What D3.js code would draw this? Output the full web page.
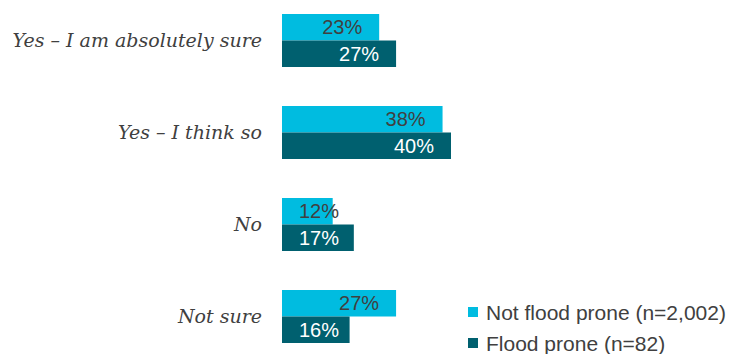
<!DOCTYPE html>
<html>
<head>
<meta charset="utf-8">
<script src="https://cdn.jsdelivr.net/npm/d3@7"></script>
<style>
  html, body { margin: 0; padding: 0; background: #fff; }
  svg { display: block; }
</style>
</head>
<body>
<svg id="chart" width="730" height="354"></svg>
<script>
// Survey answers and share of respondents (%) per group
const categories = ["Yes – I am absolutely sure", "Yes – I think so", "No", "Not sure"];
const seriesNames = ["Not flood prone (n=2,002)", "Flood prone (n=82)"];
const notFloodProne = [23, 38, 12, 27];
const floodProne = [27, 40, 17, 16];
const seriesValues = [notFloodProne, floodProne];

const colors = ["#00BCE0", "#00606F"];
const labelColors = ["#404040", "#FFFFFF"];

const svg = d3.select("#chart");

const x = d3.scaleLinear().domain([0, 40]).range([282, 451]);

const y = d3.scaleBand()
  .domain(categories)
  .range([14, 343])
  .paddingInner(39 / 92)
  .paddingOuter(0);

const ySub = d3.scaleBand()
  .domain(d3.range(seriesNames.length))
  .range([0, y.bandwidth()]);

const rows = categories.map((c, i) => ({
  category: c,
  values: seriesValues.map((vals, s) => ({ series: s, value: vals[i] }))
}));

// Category labels on the left
svg.append("g")
  .selectAll("text")
  .data(categories)
  .join("text")
  .attr("x", 262)
  .attr("y", d => y(d) + y.bandwidth() / 2)
  .attr("dy", "0.35em")
  .attr("text-anchor", "end")
  .attr("font-family", "'DejaVu Serif', Georgia, serif")
  .attr("font-style", "italic")
  .attr("font-size", "19px")
  .attr("fill", "#404040")
  .text(d => d);

// Bars
const groups = svg.append("g")
  .selectAll("g")
  .data(rows)
  .join("g")
  .attr("transform", d => `translate(0,${y(d.category)})`);

groups.selectAll("rect")
  .data(d => d.values)
  .join("rect")
  .attr("x", x(0))
  .attr("y", d => ySub(d.series))
  .attr("width", d => x(d.value) - x(0))
  .attr("height", ySub.bandwidth())
  .attr("fill", d => colors[d.series]);

// Value labels, right-aligned near the bar end
groups.selectAll("text")
  .data(d => d.values)
  .join("text")
  .attr("x", d => Math.max(x(d.value) - 17, x(0) + 57))
  .attr("y", d => ySub(d.series) + ySub.bandwidth() / 2)
  .attr("dy", "0.36em")
  .attr("text-anchor", "end")
  .attr("font-family", "Arial, 'Liberation Sans', sans-serif")
  .attr("font-size", "20px")
  .attr("fill", d => labelColors[d.series])
  .text(d => d.value + "%");

// Legend
const legend = svg.append("g")
  .selectAll("g")
  .data(seriesNames)
  .join("g")
  .attr("transform", (d, i) => `translate(468,${312 + i * 31})`);

legend.append("rect")
  .attr("x", 0)
  .attr("y", -5)
  .attr("width", 10)
  .attr("height", 10)
  .attr("fill", (d, i) => colors[i]);

legend.append("text")
  .attr("x", 18)
  .attr("y", 0)
  .attr("dy", "0.36em")
  .attr("font-family", "Arial, 'Liberation Sans', sans-serif")
  .attr("font-size", "21px")
  .attr("fill", "#404040")
  .text(d => d);
</script>
</body>
</html>
